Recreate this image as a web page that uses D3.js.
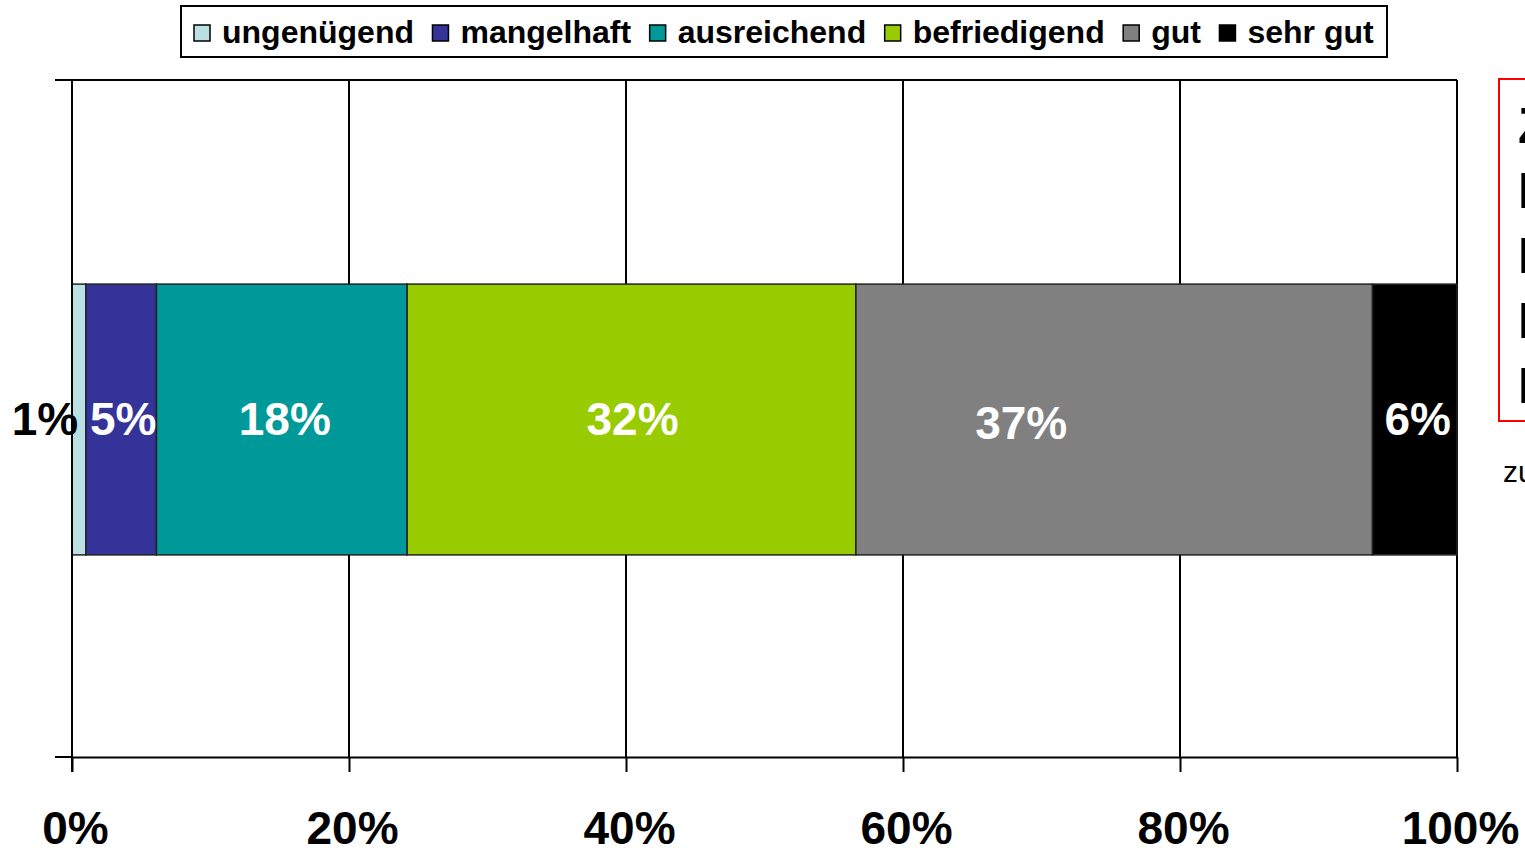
<!DOCTYPE html>
<html>
<head>
<meta charset="utf-8">
<script src="https://cdn.jsdelivr.net/npm/d3@7"></script>
<style>
  html, body { margin: 0; padding: 0; background: #fff; }
  svg { display: block; font-family: "Liberation Sans", Arial, sans-serif; }
</style>
</head>
<body>
<div id="chart"></div>
<script>
(function() {
    'use strict';

    // grades and their share (percent of all)
    var grades = ['ungenügend', 'mangelhaft', 'ausreichend', 'befriedigend', 'gut', 'sehr gut'];
    var shares = [1.0, 5.1, 18.1, 32.4, 37.3, 6.1];
    var shareLabels = ['1%', '5%', '18%', '32%', '37%', '6%'];
    var gradeColors = ['#bbe0e3', '#333399', '#009999', '#99cc00', '#808080', '#000000'];
    var labelColors = ['#000', '#fff', '#fff', '#fff', '#fff', '#fff'];
    var xTicks = [0, 0.2, 0.4, 0.6, 0.8, 1.0];
    var categories = [''];

    var fullWidth = 1525, fullHeight = 851;

    var plot = { left: 72, top: 80, right: 1457, bottom: 757 };

    var svg = d3.select('#chart')
      .append('svg')
        .attr('width', fullWidth)
        .attr('height', fullHeight);

    var x = d3.scaleLinear()
      .domain([0, 1])
      .range([plot.left, plot.right]);

    // one category, gap width 150%
    var y = d3.scaleBand()
      .domain(categories)
      .range([plot.top, plot.bottom])
      .paddingInner(0.6)
      .paddingOuter(0.3);

    // stacked segments
    var segs = [], acc = 0;
    grades.forEach(function(g, i) {
        segs.push({ grade: g, x0: acc / 100, x1: (acc + shares[i]) / 100, i: i });
        acc += shares[i];
    });

    // vertical grid
    svg.append('g')
      .selectAll('line')
      .data(xTicks)
      .enter().append('line')
        .attr('x1', function(d) { return x(d); })
        .attr('x2', function(d) { return x(d); })
        .attr('y1', plot.top)
        .attr('y2', plot.bottom)
        .attr('stroke', '#000')
        .attr('stroke-width', 2);

    // top border + left category ticks
    svg.append('line')
      .attr('x1', plot.left - 17).attr('x2', plot.right)
      .attr('y1', plot.top).attr('y2', plot.top)
      .attr('stroke', '#000').attr('stroke-width', 2);
    svg.append('line')
      .attr('x1', plot.left - 17).attr('x2', plot.left)
      .attr('y1', plot.bottom).attr('y2', plot.bottom)
      .attr('stroke', '#000').attr('stroke-width', 2);

    // bars
    svg.append('g')
      .selectAll('rect')
      .data(segs)
      .enter().append('rect')
        .attr('x', function(d) { return x(d.x0); })
        .attr('width', function(d) { return x(d.x1) - x(d.x0); })
        .attr('y', y('') + 1)
        .attr('height', y.bandwidth())
        .attr('fill', function(d) { return gradeColors[d.i]; })
        .attr('stroke', '#222')
        .attr('stroke-width', 1.5);

    // x axis
    var xAxis = d3.axisBottom(x)
      .tickValues(xTicks)
      .tickFormat(d3.format('.0%'))
      .tickSizeInner(15)
      .tickSizeOuter(0);

    var gx = svg.append('g')
      .attr('transform', 'translate(0,' + plot.bottom + ')')
      .call(xAxis);
    gx.select('.domain').attr('stroke', '#000').attr('stroke-width', 2);
    gx.selectAll('.tick line').attr('stroke', '#000').attr('stroke-width', 2);
    gx.selectAll('.tick text')
      .attr('x', 3)
      .attr('y', 87)
      .attr('dy', 0)
      .attr('fill', '#000')
      .style('font-size', '46px')
      .style('font-weight', 'bold')
      .style('font-family', '"Liberation Sans", Arial, sans-serif');

    // left axis line
    svg.append('line')
      .attr('x1', plot.left).attr('x2', plot.left)
      .attr('y1', plot.top).attr('y2', plot.bottom + 15)
      .attr('stroke', '#000').attr('stroke-width', 2);

    // data labels (1% and 37% were moved by hand in the original)
    var labelShift = { 0: [-34, 0], 1: [2, 0], 2: [3, 0], 3: [1, 0], 4: [-93, 4], 5: [3, 0] };
    var yMid = y('') + y.bandwidth() / 2;

    svg.append('g')
      .selectAll('text')
      .data(segs)
      .enter().append('text')
        .attr('x', function(d) { return (x(d.x0) + x(d.x1)) / 2 + labelShift[d.i][0]; })
        .attr('y', function(d) { return yMid + 16 + labelShift[d.i][1]; })
        .attr('text-anchor', 'middle')
        .attr('fill', function(d) { return labelColors[d.i]; })
        .style('font-size', '46px')
        .style('font-weight', 'bold')
        .text(function(d) { return shareLabels[d.i]; });

    // legend
    var legend = svg.append('g');
    legend.append('rect')
      .attr('x', 181).attr('y', 6)
      .attr('width', 1206).attr('height', 51)
      .attr('fill', '#fff')
      .attr('stroke', '#000')
      .attr('stroke-width', 2);

    var lx = 194;
    grades.forEach(function(g, i) {
        legend.append('rect')
          .attr('x', lx).attr('y', 25)
          .attr('width', 16).attr('height', 16)
          .attr('fill', gradeColors[i])
          .attr('stroke', '#000')
          .attr('stroke-width', 1.5);
        var t = legend.append('text')
          .attr('x', lx + 28).attr('y', 43)
          .attr('fill', '#000')
          .style('font-size', '32px')
          .style('font-weight', 'bold')
          .text(g);
        lx += 28 + t.node().getComputedTextLength() + 18.5;
    });

    // text box at the right edge (mostly cut off)
    svg.append('rect')
      .attr('x', 1499).attr('y', 79)
      .attr('width', 200).attr('height', 342)
      .attr('fill', 'none')
      .attr('stroke', '#ff0000')
      .attr('stroke-width', 2);

    var boxLines = ['Z', 'N', 'N', 'N', 'N'];
    svg.append('g')
      .selectAll('text')
      .data(boxLines)
      .enter().append('text')
        .attr('x', 1518)
        .attr('y', function(d, i) { return 143 + i * 65; })
        .attr('fill', '#000')
        .style('font-size', '50px')
        .style('font-weight', 'bold')
        .text(function(d) { return d; });

    svg.append('text')
      .attr('x', 1503).attr('y', 482)
      .attr('fill', '#000')
      .style('font-size', '30px')
      .text('zu');

})();
</script>
</body>
</html>
